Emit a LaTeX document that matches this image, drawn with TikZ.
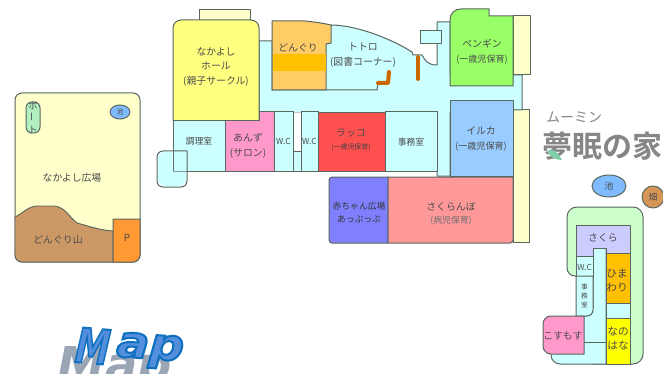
\documentclass[tikz,border=0pt]{standalone}
\usepackage{fontspec}
\setmainfont{Noto Sans CJK JP}
\newfontfamily\logofont{Noto Sans CJK JP}[BoldFont={* Bold}]
\newfontfamily\mapfont{DejaVu Sans}
\definecolor{wall}{HTML}{5A6660}
\definecolor{ink}{HTML}{4A4A4A}
\definecolor{cyanroom}{HTML}{CCFFFF}
\definecolor{cream}{HTML}{FFFFCC}
\definecolor{hallyellow}{HTML}{FFFF80}
\definecolor{donguri}{HTML}{FFCC66}
\definecolor{donband}{HTML}{FFC000}
\definecolor{anzu}{HTML}{FF99CC}
\definecolor{rakko}{HTML}{FF5050}
\definecolor{penguin}{HTML}{99FF66}
\definecolor{iruka}{HTML}{99CCFF}
\definecolor{akachan}{HTML}{8080FF}
\definecolor{sakuranbo}{HTML}{FF9999}
\definecolor{mount}{HTML}{CC9966}
\definecolor{parking}{HTML}{FF9933}
\definecolor{boat}{HTML}{B3F0C0}
\definecolor{pond}{HTML}{80BBFF}
\definecolor{yard}{HTML}{CCFFCC}
\definecolor{sakura}{HTML}{CCCCFF}
\definecolor{himawari}{HTML}{FFC000}
\definecolor{nanohana}{HTML}{FFFF00}
\definecolor{stair}{HTML}{CC6600}
\definecolor{logo}{HTML}{868686}
\definecolor{brush}{HTML}{7FD0A8}
\definecolor{mapshadow}{HTML}{9AA5B5}
\newcommand{\fsz}[2]{\fontsize{#1}{#2}\selectfont}
\newcommand{\outlined}[3]{\special{pdf:code 2 Tr #1 w #2 RG #3 rg}}
\tikzset{
  room/.style={draw=wall,line width=0.75pt,line join=round},
  lab/.style={text=ink,align=center,inner sep=0pt,font=\fsz{7.4}{10.8}},
  labs/.style={text=ink,align=center,inner sep=0pt,font=\fsz{6.6}{9.6}},
  labt/.style={text=ink,align=center,inner sep=0pt,font=\fsz{5.2}{7.6}},
  stairline/.style={draw=stair,line width=3pt,line cap=round,line join=round}
}
\begin{document}
\begin{tikzpicture}[x=0.75pt,y=-0.75pt]
\useasboundingbox (0,0) rectangle (663,374);
\fill[white] (0,0) rectangle (663,374);
\begin{scope}
\clip (0,0) rectangle (663,374);
% Map title shadow and letters
\node[text=mapshadow,inner sep=0pt,font=\mapfont\bfseries\itshape\fontsize{36}{36}\selectfont] (mapshade) at (115,369) {Map};
\node[inner sep=0pt,font=\mapfont\bfseries\itshape\fontsize{33}{33}\selectfont,rotate=-4,xscale=1.1] (mapa) at (150,351) {\outlined{1.5}{0.06 0.44 0.75}{0.33 0.56 0.87}ap\special{pdf:code 0 Tr}};
\node[inner sep=0pt,font=\mapfont\bfseries\itshape\fontsize{36}{36}\selectfont,rotate=-5,xscale=0.72] (mapm) at (93,346) {\outlined{1.5}{0.06 0.44 0.75}{0.33 0.56 0.87}M\special{pdf:code 0 Tr}};
\end{scope}
% garden
\draw[room,fill=cream] (15,100) arc[start angle=180,end angle=270,radius=7] -- (133,93) arc[start angle=270,end angle=360,radius=7] -- (140,255) arc[start angle=0,end angle=90,radius=7] -- (22,262) arc[start angle=90,end angle=180,radius=7] -- cycle;
\draw[room,fill=mount,line width=0.7pt] (15,217) .. controls (22,214) and (28,206) .. (38,206) -- (55,206) .. controls (66,208) and (70,218) .. (77,223) .. controls (85,225) and (98,230) .. (113,231) -- (113,262) -- (22,262) arc[start angle=90,end angle=180,radius=7] -- cycle;
\draw[room,fill=parking] (113,219) -- (140,219) -- (140,255) arc[start angle=0,end angle=90,radius=7] -- (113,262) -- cycle;
\draw[room,fill=boat,rounded corners=4.5pt] (26,102) rectangle (40,133);
\draw[room,fill=pond] (120,112) ellipse[x radius=10,y radius=7];
% main building base
\draw[room,fill=cream] (199,10) rectangle (250,22);
\draw[room,fill=cream] (513,16) rectangle (530,75);
\draw[room,fill=cream] (513,110) rectangle (529,242);
\draw[room,fill=cyanroom] (259,41) -- (272,41) -- (272,90) -- (326,44) -- (331,25) .. controls (355,25) and (390,38) .. (412,52) -- (413,55) -- (422,55) .. controls (425,60) and (427,65) .. (437,65) -- (437,22) -- (450,22) -- (450,75) -- (522,75) -- (522,110) -- (450,110) -- (450,176) -- (437,176) -- (437,112) -- (259,112) -- cycle;
\draw[room,fill=cyanroom] (420,31) rectangle (441,44);
\fill[cyanroom] (272.5,90.4) rectangle (449.5,111.6);
\fill[cyanroom] (410,66) rectangle (436.6,111.6);
\draw[room] (272,90) -- (377,90) -- (378,84);
% Hall
\draw[room,fill=hallyellow] (173,121) -- (173,28) arc[start angle=180,end angle=270,radius=8] -- (251,20) arc[start angle=270,end angle=360,radius=8] -- (259,121) -- cycle;
% Donguri
\draw[room,fill=donguri] (272,21) -- (305,21) .. controls (315,22) and (322,23) .. (331,25) -- (331,43) -- (326,44) -- (326,90) -- (272,90) -- cycle;
\fill[donband] (272.5,54) rectangle (325.5,71);
% Penguin
\draw[room,fill=penguin] (450,86) -- (450,20) .. controls (450,13) and (455,9) .. (461,9) -- (489,9) -- (489,16) -- (513,16) -- (513,86) -- cycle;
% Iruka
\draw[room,fill=iruka] (450,101) rectangle (513,176);
% ground row
\draw[room,fill=cyanroom] (173,121) rectangle (225,171);
\draw[room,fill=anzu] (225,121) -- (259,121) -- (259,112) -- (274,112) -- (274,171) -- (225,171) -- cycle;
\draw[room,fill=cyanroom] (274,112) rectangle (293,171);
\draw[room,fill=cyanroom] (293,152) rectangle (301,171);
\draw[room,fill=cyanroom] (301,112) rectangle (318,171);
\draw[draw=wall,line width=0.5pt,fill=rakko] (318,112) rectangle (385,171);
\draw[room,fill=cyanroom] (385,112) rectangle (437,171);
\fill[cyanroom] (158,156) -- (163,151.5) -- (172.5,151.5) -- (172.5,171.5) -- (186.5,171.5) -- (186.5,181) -- (181,186.5) -- (163,186.5) -- (158,181) -- cycle;
\draw[room] (157,157) arc[start angle=180,end angle=270,radius=6] -- (187,151) -- (187,181) arc[start angle=0,end angle=90,radius=6] -- (163,187) arc[start angle=90,end angle=180,radius=6] -- cycle;
% stairs
\draw[stairline] (378,83) -- (388,83) -- (389,72);
\draw[stairline] (418,57) -- (418,79);
% south block
\draw[room,fill=akachan] (388,177) -- (388,243) -- (332,243) arc[start angle=90,end angle=180,radius=3] -- (329,180) arc[start angle=180,end angle=270,radius=3] -- cycle;
\draw[room,fill=sakuranbo] (388,177) -- (513,177) -- (513,240) arc[start angle=0,end angle=90,radius=3] -- (388,243) -- cycle;
% annex
\draw[room,fill=yard] (567,217) arc[start angle=180,end angle=270,radius=10] -- (633,207) arc[start angle=270,end angle=360,radius=10] -- (643,354) arc[start angle=0,end angle=90,radius=10] -- (593,364) -- (593,276) -- (575,276) arc[start angle=90,end angle=180,radius=8] -- cycle;
\draw[room,fill=cyanroom] (593,248) -- (606,248) -- (606,364) -- (560,364) arc[start angle=90,end angle=180,radius=9] -- (551,320) -- (585,316) -- (593,308) -- cycle;
\draw[room,fill=cyanroom] (576,256) rectangle (593,276);
\draw[room,fill=cyanroom] (576,276) -- (593,276) -- (593,310) arc[start angle=0,end angle=90,radius=6] -- (576,316) -- cycle;
\draw[room,fill=sakura] (576,225) -- (630,225) -- (630,253) -- (606,253) -- (606,248) -- (593,248) -- (593,256) -- (576,256) -- cycle;
\draw[room,fill=himawari] (606,253) rectangle (630,303);
\draw[room,fill=cyanroom] (606,303) rectangle (630,318);
\draw[room,fill=nanohana] (606,318) rectangle (630,364);
\draw[room] (584,342) -- (606,342);
\draw[room,fill=anzu] (551,316) -- (584,316) -- (584,354) -- (551,354) arc[start angle=90,end angle=180,radius=8] -- (543,324) arc[start angle=180,end angle=270,radius=8] -- cycle;
\draw[room,fill=pond] (609,186) ellipse[x radius=17,y radius=11];
\draw[room,fill=mount!85!orange] (653,197) circle[radius=11];
% logo
\node[text=logo,inner sep=0pt,font=\logofont\fsz{10.5}{12}] (logoa) at (574,117) {ムーミン};
\node[text=logo,inner sep=0pt,font=\logofont\bfseries\fsz{22.5}{24}] (logob) at (602,146) {夢眠の家};
\fill[brush] (547,151) .. controls (553,148) and (557,151) .. (562,160) .. controls (555,160) and (550,157) .. (547,151) -- cycle;
% labels
\node[lab] (t1) at (216,67) {なかよし\\ホール\\(親子サークル)};
\node[lab] (t2) at (298,48) {どんぐり};
\node[lab] (t3) at (363,55) {トトロ\\(図書コーナー)};
\node[lab] (t4) at (482,51.5) {ペンギン\\{\fsz{6.8}{10.8}(一歳児保育)}};
\node[lab] (t5) at (481,139) {イルカ\\{\fsz{6.8}{10.8}(一歳児保育)}};
\node[lab] (t6) at (351,133) {ラッコ};
\node[labt,text=black!75] (t7) at (351,147) {(一歳児保育)};
\node[labs] (t8) at (411,142) {事務室};
\node[labs] (t9) at (199,141) {調理室};
\node[lab] (t10) at (248,146) {あんず\\(サロン)};
\node[labs,font=\fsz{6.2}{8}] (t11) at (283.5,141) {W.C};
\node[labs,font=\fsz{6.2}{8}] (t12) at (309.5,141) {W.C};
\node[labs,text=black!80] (t13) at (359,212.5) {赤ちゃん広場\\あっぷっぷ};
\node[lab] (t14) at (451,207) {さくらんぼ};
\node[labs,text=ink!80] (t15) at (451,221) {(病児保育)};
\node[lab] (t16) at (72,178) {なかよし広場};
\node[lab,text=black!70] (t17) at (58,240) {どんぐり山};
\node[lab] (t18) at (127,238) {P};
\node[labs,font=\fsz{7}{9}] (t19) at (33,118) {ボ\\\rotatebox{90}{ー}\\ト};
\node[labt] (t20) at (120,112) {池};
\node[labs] (t21) at (609,186) {池};
\node[labs] (t22) at (653,197) {畑};
\node[lab] (t23) at (603,238) {さくら};
\node[lab,font=\fsz{8}{11}] (t24) at (617,280.5) {ひま\\わり};
\node[lab,font=\fsz{8}{11}] (t25) at (618,338.5) {なの\\はな};
\node[lab] (t26) at (563,336) {こすもす};
\node[labs,font=\fsz{6.2}{8}] (t27) at (584.5,267) {W.C};
\node[labt,font=\fsz{5}{6.6}] (t28) at (584.5,296) {事\\務\\室};
\end{tikzpicture}
\end{document}
